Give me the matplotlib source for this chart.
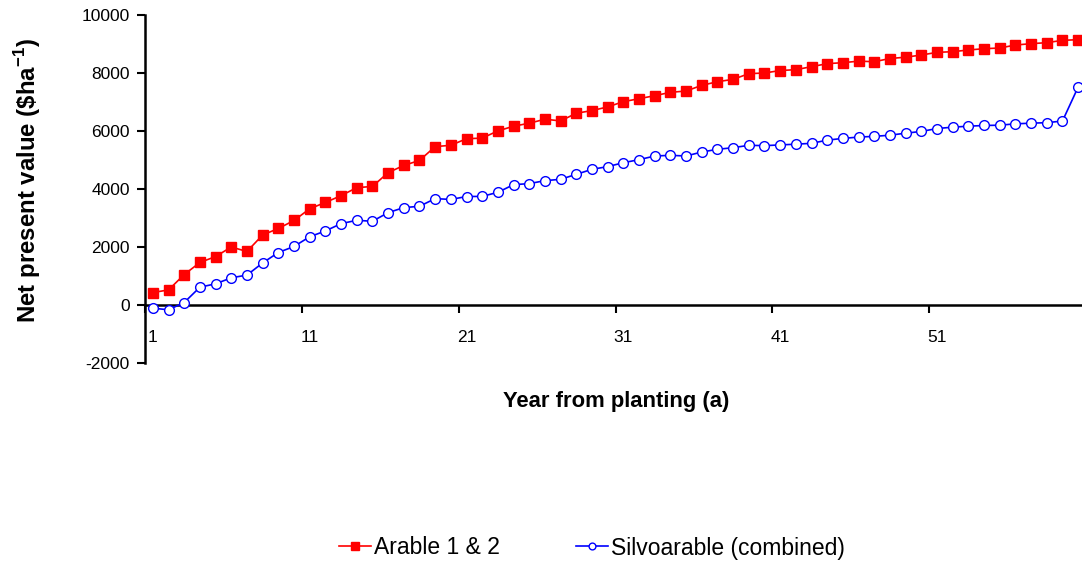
import numpy as np
import matplotlib.pyplot as plt

plt.rcParams['font.family'] = ['Liberation Sans', 'DejaVu Sans']
plt.rcParams['mathtext.fontset'] = 'custom'
plt.rcParams['mathtext.rm'] = 'Liberation Sans'
plt.rcParams['mathtext.bf'] = 'Liberation Sans:bold'
plt.rcParams['axes.unicode_minus'] = False

years = np.arange(1, 61)
arable = [430, 520, 1050, 1466, 1670, 2000, 1845, 2414, 2638, 2914,
          3318, 3536, 3770, 4046, 4088, 4563, 4812, 4985, 5461, 5508,
          5733, 5755, 6003, 6165, 6268, 6406, 6348, 6612, 6704, 6831,
          7011, 7114, 7218, 7333, 7379, 7574, 7700, 7781, 7977, 8000,
          8085, 8115, 8218, 8322, 8356, 8408, 8390, 8500, 8545, 8620,
          8712, 8735, 8793, 8838, 8861, 8965, 9011, 9046, 9126, 9149]
silvo = [-110, -165, 86, 614, 730, 938, 1031, 1450, 1810, 2018,
         2353, 2553, 2805, 2921, 2887, 3185, 3358, 3404, 3668, 3640,
         3740, 3745, 3886, 4150, 4185, 4288, 4334, 4506, 4679, 4771,
         4907, 5011, 5138, 5161, 5138, 5276, 5368, 5425, 5506, 5495,
         5520, 5545, 5575, 5685, 5745, 5790, 5815, 5855, 5925, 5985,
         6085, 6132, 6166, 6190, 6200, 6247, 6270, 6287, 6344, 7516]

fig = plt.figure(figsize=(10.82, 5.69), dpi=100)
ax = fig.add_axes([145 / 1082, 1 - 363 / 569, 941 / 1082, 348 / 569])

l1, = ax.plot(years, arable, color='#ff0000', lw=1.2, marker='s', ms=7.5,
              mfc='#ff0000', mec='#ff0000', clip_on=False, zorder=3)
l2, = ax.plot(years, silvo, color='#0000ff', lw=1.2, marker='o', ms=7,
              mfc='white', mec='#0000ff', mew=1.0, clip_on=False, zorder=3)

ax.set_xlim(0.5, 60.5)
ax.set_ylim(-2000, 10000)
ax.set_yticks(np.arange(-2000, 10001, 2000))
ax.tick_params(axis='y', direction='out', length=6, width=1.5, labelsize=12.5, pad=5)

ax.spines['top'].set_visible(False)
ax.spines['right'].set_visible(False)
ax.spines['left'].set_linewidth(1.8)
ax.spines['bottom'].set_position(('data', 0))
ax.spines['bottom'].set_linewidth(1.8)

ax.set_xticks(np.arange(0.5, 61, 10))
ax.set_xticklabels([])
ax.tick_params(axis='x', which='major', direction='out', length=6, width=1.5)
ax.set_xticks([1, 11, 21, 31, 41, 51], minor=True)
ax.set_xticklabels(['1', '11', '21', '31', '41', '51'], minor=True)
ax.tick_params(axis='x', which='minor', length=0, labelsize=12.5, pad=18)

fig.text(28 / 1082, 1 - 181 / 569, r'Net present value (\$ha$^{\mathbf{-1}}$)',
         rotation=90, ha='center', va='center', fontsize=17.3, fontweight='bold')
fig.text(616 / 1082, 1 - 401 / 569, 'Year from planting (a)',
         ha='center', va='center', fontsize=15.8, fontweight='bold')

fig.legend([l1, l2], ['Arable 1 & 2', 'Silvoarable (combined)'],
           loc='center', bbox_to_anchor=(592 / 1082, 1 - 548 / 569), ncol=2,
           frameon=False, fontsize=16.5, handlelength=1.4, handletextpad=0.15,
           columnspacing=3.3, markerscale=0.7)

fig.savefig('out.png', dpi=100)
